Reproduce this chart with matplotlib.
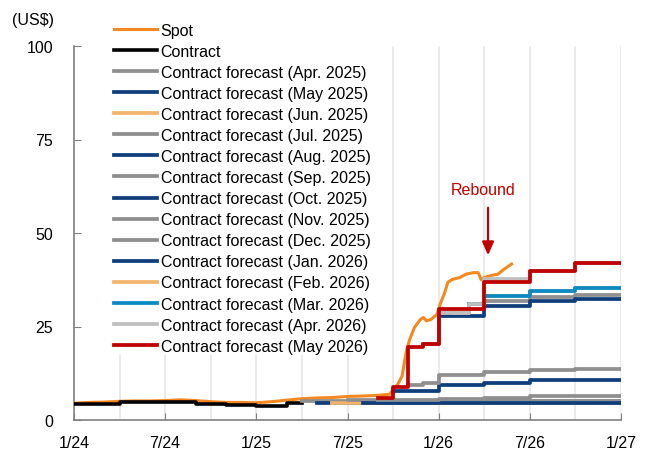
import matplotlib

matplotlib.use("Agg")
import matplotlib.pyplot as plt
import numpy as np

plt.rcParams["font.family"] = ["Liberation Sans", "DejaVu Sans"]

# x positions are months since Jan 2024 (0 = 1/24, 36 = 1/27)
spot_m = [0, 1, 2, 3, 4, 5, 6, 7, 8, 9, 10, 11, 12, 13, 14, 15, 16, 17, 18,
          19, 20, 20.8, 21.0, 21.3, 21.6, 21.7, 21.9, 22.1, 22.4, 22.8, 23.0,
          23.2, 23.5, 23.9, 24.1, 24.4, 24.6, 24.9, 25.4, 25.8, 26.3, 26.6,
          26.8, 27.0, 27.5, 27.9, 28.3, 28.8]
spot = [4.5, 4.7, 4.8, 5.0, 5.1, 5.1, 5.2, 5.4, 5.2, 4.9, 4.7, 4.7, 4.6, 4.9,
        5.3, 5.7, 5.9, 6.0, 6.3, 6.4, 6.6, 6.9, 8.2, 9.5, 11.8, 14.4, 18.9,
        21.6, 24.7, 26.9, 27.4, 26.5, 26.9, 28.3, 31.0, 34.1, 36.8, 37.6,
        38.1, 39.0, 39.4, 39.4, 37.5, 38.1, 38.7, 39.0, 40.3, 41.7]

contract_m = [0, 3, 8, 10, 12, 14, 15]
contract = [4.2, 4.8, 4.2, 3.9, 3.75, 4.5, 4.6]

# forecasts: month where each step starts, and the level of the step
labels = ["Apr. 2025", "May 2025", "Jun. 2025", "Jul. 2025", "Aug. 2025",
          "Sep. 2025", "Oct. 2025", "Nov. 2025", "Dec. 2025", "Jan. 2026",
          "Feb. 2026", "Mar. 2026", "Apr. 2026", "May 2026"]
fc_m = [
    [15],
    [16],
    [17],
    [18, 20],
    [19, 30],
    [20, 24, 27, 30],
    [21, 24, 27, 30],
    [22, 23, 24, 27, 30, 33],
    [23, 24, 26, 27, 30, 33],
    [24, 27, 30, 33],
    [25, 26, 27, 30, 33],
    [26, 27, 30, 33],
    [24, 26, 27, 30, 33],
    [20, 21, 22, 23, 24, 27, 30, 33],
]
fc_v = [
    [5.1],
    [4.5],
    [4.5],
    [5.4, 5.0],
    [4.5, 4.6],
    [5.3, 5.7, 6.0, 6.4],
    [7.8, 9.3, 10.0, 10.6],
    [9.3, 10.0, 11.9, 12.8, 13.4, 13.7],
    [20.3, 28.5, 31.0, 31.8, 32.9, 33.4],
    [27.8, 30.4, 31.7, 32.3],
    [28.5, 31.0, 33.1, 34.5, 35.4],
    [31.0, 33.1, 34.5, 35.4],
    [28.5, 31.0, 37.6, 39.9, 41.9],
    [6.0, 8.7, 19.4, 20.3, 29.8, 36.8, 39.9, 41.9],
]
GRAY, NAVY, LORANGE = "#8f8f8f", "#0e3f7c", "#f3b46e"
colors = [GRAY, NAVY, LORANGE, GRAY, NAVY, GRAY, NAVY, GRAY, GRAY, NAVY,
          LORANGE, "#0a8bc4", "#bfbfbf", "#c00000"]

END = 36
ticks = [0, 6, 12, 18, 24, 30, 36]
tick_labels = ["1/24", "7/24", "1/25", "7/25", "1/26", "7/26", "1/27"]

fig = plt.figure(figsize=(6.46, 4.52), dpi=100)
ax = fig.add_axes([74 / 646, 1 - 421 / 452, 547 / 646, 374 / 452])

ax.plot(spot_m, spot, color="#f5891f", lw=2.2, label="Spot", zorder=3)
ax.plot(contract_m, contract, color="black", lw=2.6, drawstyle="steps-post",
        label="Contract", zorder=3)
for lab, m, v, c in zip(labels, fc_m, fc_v, colors):
    ax.plot(m + [END], v + [v[-1]], color=c, lw=2.7, drawstyle="steps-post",
            label=f"Contract forecast ({lab})", zorder=3)

ax.annotate("", xy=(27.25, 43.3), xytext=(27.25, 57.5),
            arrowprops=dict(arrowstyle="-|>,head_width=0.35,head_length=0.8",
                            color="#c00000", lw=1.6))
ax.text(26.9, 61.7, "Rebound", color="#c00000", fontsize=11.5, ha="center",
        va="center")

ax.set_xlim(0, END)
ax.set_ylim(0, 100)
ax.set_yticks([0, 25, 50, 75, 100])
ax.set_xticks(ticks)
ax.set_xticklabels(tick_labels)
ax.set_xticks(np.arange(3, END + 1, 3), minor=True)
ax.grid(True, axis="x", which="both", color="#e6e6e6", lw=1.2, zorder=0)
ax.tick_params(axis="both", direction="in", length=5, color="#808080",
               labelsize=11.5)
ax.tick_params(axis="x", which="minor", length=0)
ax.tick_params(axis="y", pad=15)
ax.tick_params(axis="x", pad=11)
for s in ["top", "right"]:
    ax.spines[s].set_visible(False)
for s in ["left", "bottom"]:
    ax.spines[s].set_color("#808080")
    ax.spines[s].set_linewidth(1.2)

fig.text(33 / 646, 1 - 20 / 452, "(US$)", fontsize=11.5, ha="center",
         va="center")

leg = ax.legend(loc="upper left", bbox_to_anchor=(112 / 646, 1 - 22 / 452),
                bbox_transform=fig.transFigure, fontsize=11.5, frameon=True,
                facecolor="white", edgecolor="none", framealpha=1,
                borderpad=0.1, handlelength=2.7, handletextpad=0.25,
                labelspacing=0.38, borderaxespad=0)
leg.set_zorder(2)

fig.savefig("out.png", dpi=100)
